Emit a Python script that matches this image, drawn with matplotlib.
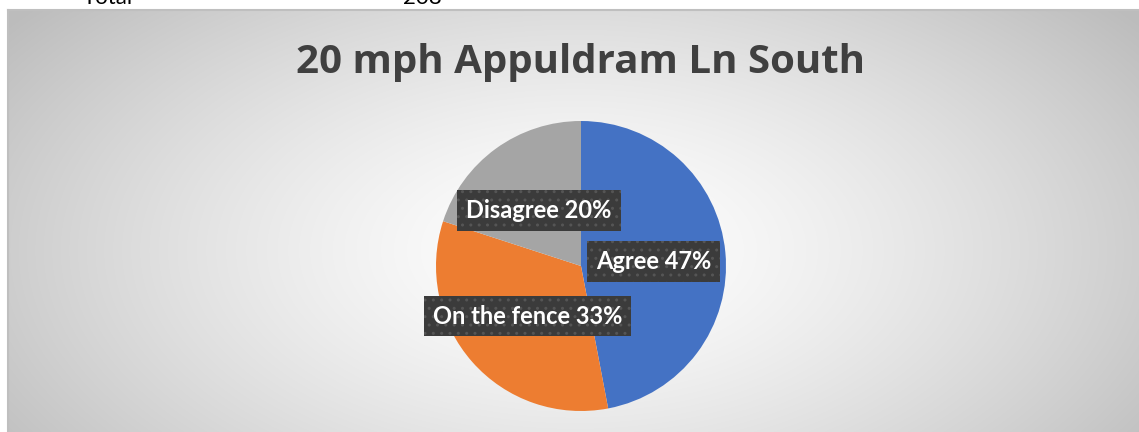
import numpy as np
import matplotlib.pyplot as plt

categories = ["Agree", "On the fence", "Disagree"]
percents = [47, 33, 20]
colors = ["#4472C4", "#ED7D31", "#A5A5A5"]
title = "20 mph Appuldram Ln South"
total_label = "Total"
total_value = 208

W, H = 1139, 432
fig = plt.figure(figsize=(W / 100, H / 100), dpi=100)
fig.patch.set_facecolor("white")

# chart area with radial gradient background
x0, ytop = 8, 10
bg = fig.add_axes([x0 / W, 0, 1 - x0 / W, 1 - ytop / H])
bw, bh = W - x0, H - ytop
yy, xx = np.mgrid[0:bh, 0:bw]
cx, cy = 575 - x0, 250 - ytop
r = np.sqrt(((xx - cx) / (bw * 0.62)) ** 2 + ((yy - cy) / (bh * 0.9)) ** 2)
r = np.clip(r, 0, 1)
val = 1.0 - 0.26 * r ** 1.4
bg.imshow(np.dstack([val, val, val]), aspect="auto", interpolation="bilinear")
bg.set_xticks([])
bg.set_yticks([])
for s in ["right", "bottom"]:
    bg.spines[s].set_visible(False)
for s in ["top", "left"]:
    bg.spines[s].set_color("#bfbfbf")
    bg.spines[s].set_linewidth(1.5)

# cells above the chart, cut off by the crop as in the source
fig.text(83 / W, 1 - 4 / H, total_label, fontsize=16, family="Lato",
         va="baseline", ha="left", color="black")
fig.text(403 / W, 1 - 4 / H, str(total_value), fontsize=16, family="Lato",
         va="baseline", ha="left", color="black")

fig.text(580 / W, 1 - 63 / H, title, fontsize=29, family="Open Sans",
         fontweight="bold", color="#404040", ha="center", va="center")

# pie
pcx, pcy, rad = 581, 266, 145
ax = fig.add_axes([(pcx - rad) / W, (H - pcy - rad) / H, 2 * rad / W, 2 * rad / H])
ax.pie(percents, colors=colors, startangle=90, counterclock=False,
       wedgeprops=dict(linewidth=0))
ax.set_aspect("equal")
ax.set_xlim(-1, 1)
ax.set_ylim(-1, 1)
ax.axis("off")

label_pos = [(0.50, 0.03), (-0.37, -0.345), (-0.29, 0.38)]
for cat, pct, (lx, ly) in zip(categories, percents, label_pos):
    ax.text(lx, ly, f"{cat} {pct}%", color="white", fontsize=17,
            family="Lato", fontweight="bold", ha="center", va="center",
            bbox=dict(boxstyle="square,pad=0.38", facecolor="#3b3b3b",
                      edgecolor="#555555", linewidth=0, hatch=".."),
            zorder=5)

fig.savefig("out.png", dpi=100)
